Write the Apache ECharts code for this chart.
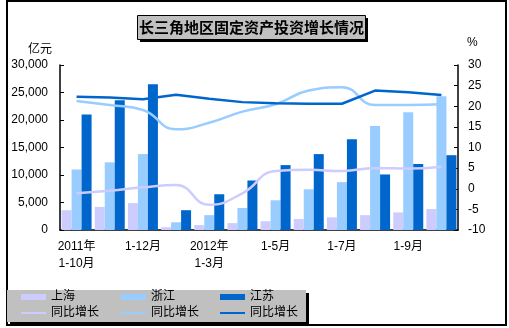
<!DOCTYPE html>
<html>
<head>
<meta charset="utf-8">
<script src="https://cdn.jsdelivr.net/npm/echarts@6/dist/echarts.min.js"></script>
<style>
html,body{margin:0;padding:0;background:#fff;}
#chart{width:509px;height:328px;}
</style>
</head>
<body>
<div id="chart"></div>
<script>
const categories = ['2011年\n1-10月','1-11月','1-12月','2012年\n1-2月','2012年\n1-3月','1-4月','1-5月','1-6月','1-7月','1-8月','1-9月','1-10月'];
const shanghai = [3600, 4200, 4900, 500, 900, 1250, 1600, 2000, 2300, 2700, 3200, 3800];
const zhejiang = [11000, 12300, 13800, 1400, 2700, 4000, 5400, 7400, 8700, 18900, 21400, 24300];
const jiangsu = [21000, 23600, 26500, 3600, 6500, 9000, 11800, 13800, 16500, 10100, 12000, 13600];
const shanghaiGrowth = [-1.1, -0.5, 0.35, 0.9, -3.9, -1.1, 4.3, 4.6, 4.3, 5.0, 4.9, 5.35];
const zhejiangGrowth = [21.3, 20.3, 19.1, 14.4, 16.0, 18.7, 20.5, 23.8, 24.6, 20.3, 20.3, 20.5];
const jiangsuGrowth = [22.3, 22.1, 21.7, 22.8, 21.8, 21.0, 20.7, 20.6, 20.6, 23.8, 23.4, 22.7];
const leftTicks = {min: 0, max: 30000, interval: 5000};
const rightTicks = {min: -10, max: 30, interval: 5};

const FONT = '"Liberation Sans", "Noto Sans CJK SC", sans-serif';
const C_SH = '#CCCCFF', C_ZJ = '#99CCFF', C_JS = '#0066CC';

const chart = echarts.init(document.getElementById('chart'));

function legendItem(name, left, top, h) {
  return {
    data: [{name: name, icon: 'rect'}],
    left: left, top: top, padding: 0,
    itemWidth: 25, itemHeight: h,
    itemStyle: {borderWidth: 0},
    textStyle: {fontSize: 12, color: '#000', fontFamily: FONT},
    formatter: n => n.endsWith('同比增长') ? '同比增长' : n,
    selectedMode: false
  };
}

chart.setOption({
  animation: false,
  textStyle: {fontFamily: FONT},
  graphic: [
    {type: 'rect', shape: {x: 7, y: 1, width: 499, height: 324}, style: {fill: 'none', stroke: '#000', lineWidth: 2}, z: -10},
    {type: 'rect', shape: {x: 140, y: 18, width: 228, height: 24}, style: {fill: '#000'}, z: -5},
    {type: 'rect', shape: {x: 137.5, y: 15.5, width: 228, height: 24}, style: {fill: '#C0C0C0', stroke: '#000', lineWidth: 1}, z: -4},
    {type: 'text', x: 251.5, y: 27.5, style: {text: '长三角地区固定资产投资增长情况', fontSize: 15, fontWeight: 'bold', fontFamily: '"Noto Sans CJK SC"', fill: '#000', align: 'center', verticalAlign: 'middle'}, z: 10},
    {type: 'rect', shape: {x: 10, y: 293, width: 299, height: 32}, style: {fill: '#000'}, z: -5},
    {type: 'rect', shape: {x: 7, y: 290, width: 299, height: 32}, style: {fill: '#C0C0C0'}, z: -4},
    {type: 'text', x: 28, y: 48, style: {text: '亿元', fontSize: 12, fontFamily: '"Noto Sans CJK SC"', fill: '#000', verticalAlign: 'middle'}},
    {type: 'text', x: 467, y: 43, style: {text: '%', fontSize: 12, fontFamily: '"Liberation Sans"', fill: '#000', verticalAlign: 'middle'}}
  ],
  legend: [
    legendItem('上海', 21, 291, 6),
    legendItem('浙江', 121, 291, 6),
    legendItem('江苏', 220, 291, 6),
    legendItem('上海同比增长', 21, 307, 2),
    legendItem('浙江同比增长', 121, 307, 2),
    legendItem('江苏同比增长', 220, 307, 2)
  ],
  grid: {left: 60, right: 51, top: 65, bottom: 98},
  xAxis: {
    type: 'category', data: categories, boundaryGap: true,
    axisLine: {lineStyle: {color: '#000', width: 1.5}},
    axisTick: {inside: true, length: 4, interval: 1, lineStyle: {color: '#000'}},
    axisLabel: {interval: 1, color: '#000', fontSize: 12, margin: 8, lineHeight: 17, fontFamily: FONT}
  },
  yAxis: [
    {type: 'value', min: leftTicks.min, max: leftTicks.max, interval: leftTicks.interval,
     axisLine: {show: true, lineStyle: {color: '#000', width: 1.5}},
     axisTick: {show: true, inside: true, length: 4, lineStyle: {color: '#000'}},
     splitLine: {show: false},
     axisLabel: {color: '#000', fontSize: 12, margin: 12, formatter: v => v.toLocaleString('en-US')}},
    {type: 'value', min: rightTicks.min, max: rightTicks.max, interval: rightTicks.interval, position: 'right',
     axisLine: {show: true, lineStyle: {color: '#000', width: 1.5}},
     axisTick: {show: true, inside: true, length: 4, lineStyle: {color: '#000'}},
     splitLine: {show: false},
     axisLabel: {color: '#000', fontSize: 12, margin: 10}}
  ],
  series: [
    {name: '上海', type: 'bar', data: shanghai, barWidth: 10, barGap: '0%', itemStyle: {color: C_SH}},
    {name: '浙江', type: 'bar', data: zhejiang, barWidth: 10, barGap: '0%', itemStyle: {color: C_ZJ}},
    {name: '江苏', type: 'bar', data: jiangsu, barWidth: 10, barGap: '0%', itemStyle: {color: C_JS}},
    {name: '上海同比增长', type: 'line', yAxisIndex: 1, data: shanghaiGrowth, smooth: 0.5, showSymbol: false, symbol: 'none',
     itemStyle: {color: C_SH}, lineStyle: {color: C_SH, width: 2.5}},
    {name: '浙江同比增长', type: 'line', yAxisIndex: 1, data: zhejiangGrowth, smooth: 0.5, showSymbol: false, symbol: 'none',
     itemStyle: {color: C_ZJ}, lineStyle: {color: C_ZJ, width: 2.5}},
    {name: '江苏同比增长', type: 'line', yAxisIndex: 1, data: jiangsuGrowth, smooth: false, showSymbol: false, symbol: 'none',
     itemStyle: {color: C_JS}, lineStyle: {color: C_JS, width: 2.5}}
  ]
});
</script>
</body>
</html>
